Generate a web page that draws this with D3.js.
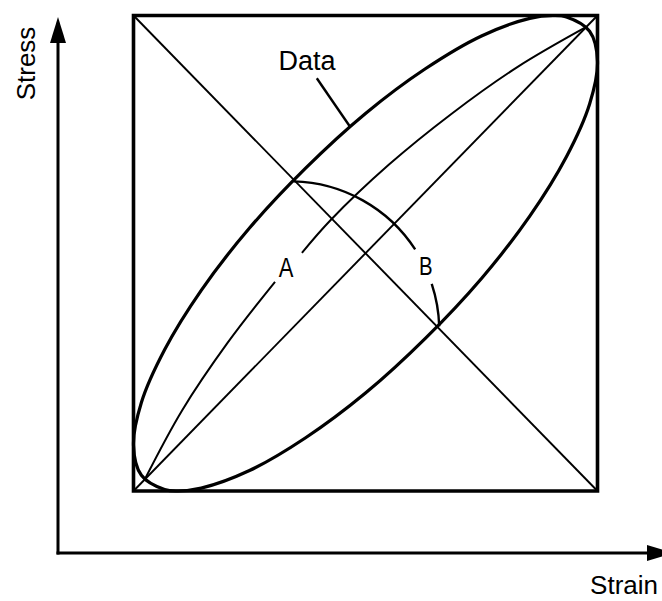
<!DOCTYPE html>
<html>
<head>
<meta charset="utf-8">
<script src="https://cdn.jsdelivr.net/npm/d3@7"></script>
<style>
  body { margin: 0; background: #fff; }
  text { font-family: "Liberation Sans", Arial, sans-serif; fill: #000; }
</style>
</head>
<body>
<div id="chart"></div>
<script>
// stress / strain loop inscribed in its bounding box (box = 0..1 on both axes)

var width = 662,
    height = 601;

// the "Data" loop (strain, stress)
var loopStrain = [0.500, 0.629, 0.750, 0.854, 0.904, 0.933, 0.983, 1.000, 0.983, 0.933, 0.854, 0.750, 0.629,
                  0.500, 0.371, 0.250, 0.146, 0.096, 0.067, 0.017, 0.000, 0.017, 0.067, 0.146, 0.250, 0.371];
var loopStress = [0.794, 0.888, 0.957, 0.994, 1.000, 0.997, 0.967, 0.904, 0.814, 0.703, 0.578, 0.447, 0.321,
                  0.206, 0.112, 0.043, 0.006, 0.000, 0.003, 0.033, 0.096, 0.186, 0.297, 0.422, 0.553, 0.679];

// curve labelled A (null = gap for the label)
var aStrain = [0.024, 0.105, 0.203, 0.305, null, 0.363, 0.425, 0.550, 0.685, 0.828, 0.976];
var aStress = [0.024, 0.170, 0.312, 0.440, null, 0.501, 0.570, 0.686, 0.793, 0.892, 0.976];

// arc labelled B: centre on the diagonal, radius, angle pieces (degrees)
var arcCenter = [0.337, 0.337];
var arcRadius = 0.322;
var arcPieces = [[-88.6, -33], [-18.3, -1.7]];

// box corners and the two diagonals
var boxCorners = [[0, 0], [1, 0], [1, 1], [0, 1]];
var diagonals = [[[0, 1], [1, 0]], [[0, 0], [1, 1]]];

var x = d3.scaleLinear().domain([0, 1]).range([133.5, 597.5]);
var y = d3.scaleLinear().domain([0, 1]).range([491, 15.5]);

var svg = d3.select("#chart").append("svg")
    .attr("width", width)
    .attr("height", height);

// arrow heads
var defs = svg.append("defs");
defs.append("marker")
    .attr("id", "arrow")
    .attr("viewBox", "0 0 26 16")
    .attr("refX", 0)
    .attr("refY", 8)
    .attr("markerUnits", "userSpaceOnUse")
    .attr("markerWidth", 26)
    .attr("markerHeight", 16)
    .attr("orient", "auto")
  .append("path")
    .attr("d", "M0,0L26,8L0,16Z")
    .attr("fill", "#000");

// axes (no ticks, just arrows)
var ox = 58, oy = 553;
svg.append("line")
    .attr("x1", ox).attr("y1", oy + 1.5)
    .attr("x2", ox).attr("y2", 43)
    .attr("stroke", "#000").attr("stroke-width", 3)
    .attr("marker-end", "url(#arrow)");
svg.append("line")
    .attr("x1", ox - 1.5).attr("y1", oy)
    .attr("x2", 647).attr("y2", oy)
    .attr("stroke", "#000").attr("stroke-width", 3)
    .attr("marker-end", "url(#arrow)");

svg.append("text")
    .attr("transform", "translate(35,63.5) rotate(-90)")
    .attr("text-anchor", "middle")
    .attr("font-size", 26)
    .text("Stress");

svg.append("text")
    .attr("x", 658)
    .attr("y", 594)
    .attr("text-anchor", "end")
    .attr("font-size", 26)
    .text("Strain");

// diagonals
svg.selectAll(".diag")
    .data(diagonals)
  .enter().append("line")
    .attr("class", "diag")
    .attr("x1", function(d) { return x(d[0][0]); })
    .attr("y1", function(d) { return y(d[0][1]); })
    .attr("x2", function(d) { return x(d[1][0]); })
    .attr("y2", function(d) { return y(d[1][1]); })
    .attr("stroke", "#000")
    .attr("stroke-width", 1.9);

// box
svg.append("path")
    .attr("d", d3.line()
        .x(function(d) { return x(d[0]); })
        .y(function(d) { return y(d[1]); })(boxCorners) + "Z")
    .attr("fill", "none")
    .attr("stroke", "#000")
    .attr("stroke-width", 3.6)
    .attr("stroke-linejoin", "miter");

// curve A
var aPts = aStrain.map(function(v, i) { return [v, aStress[i]]; });
svg.append("path")
    .attr("d", d3.line()
        .defined(function(d) { return d[0] != null; })
        .x(function(d) { return x(d[0]); })
        .y(function(d) { return y(d[1]); })
        .curve(d3.curveCatmullRom)(aPts))
    .attr("fill", "none")
    .attr("stroke", "#000")
    .attr("stroke-width", 2);

// data loop
var loopPts = loopStrain.map(function(v, i) { return [v, loopStress[i]]; });
svg.append("path")
    .attr("d", d3.line()
        .x(function(d) { return x(d[0]); })
        .y(function(d) { return y(d[1]); })
        .curve(d3.curveCatmullRomClosed)(loopPts))
    .attr("fill", "none")
    .attr("stroke", "#000")
    .attr("stroke-width", 3.2);

// arc B
var cx = x(arcCenter[0]), cy = y(arcCenter[1]), r = x(arcRadius) - x(0);
arcPieces.forEach(function(p) {
  var a0 = p[0] * Math.PI / 180, a1 = p[1] * Math.PI / 180;
  var pth = d3.path();
  pth.moveTo(cx + r * Math.cos(a0), cy + r * Math.sin(a0));
  pth.arc(cx, cy, r, a0, a1);
  svg.append("path")
      .attr("d", pth.toString())
      .attr("fill", "none")
      .attr("stroke", "#000")
      .attr("stroke-width", 2.4);
});

// "Data" label with leader
svg.append("line")
    .attr("x1", x(0.395)).attr("y1", y(0.868))
    .attr("x2", x(0.466)).attr("y2", y(0.767))
    .attr("stroke", "#000")
    .attr("stroke-width", 2.4);
svg.append("text")
    .attr("x", 278.5)
    .attr("y", 70)
    .attr("font-size", 27)
    .text("Data");

// A and B labels (narrow lettering)
svg.append("text")
    .attr("transform", "translate(" + x(0.329) + "," + y(0.451) + ") scale(0.8,1)")
    .attr("text-anchor", "middle")
    .attr("font-size", 27.5)
    .text("A");
svg.append("text")
    .attr("transform", "translate(" + x(0.630) + "," + y(0.455) + ") scale(0.8,1)")
    .attr("text-anchor", "middle")
    .attr("font-size", 25.5)
    .text("B");
</script>
</body>
</html>
